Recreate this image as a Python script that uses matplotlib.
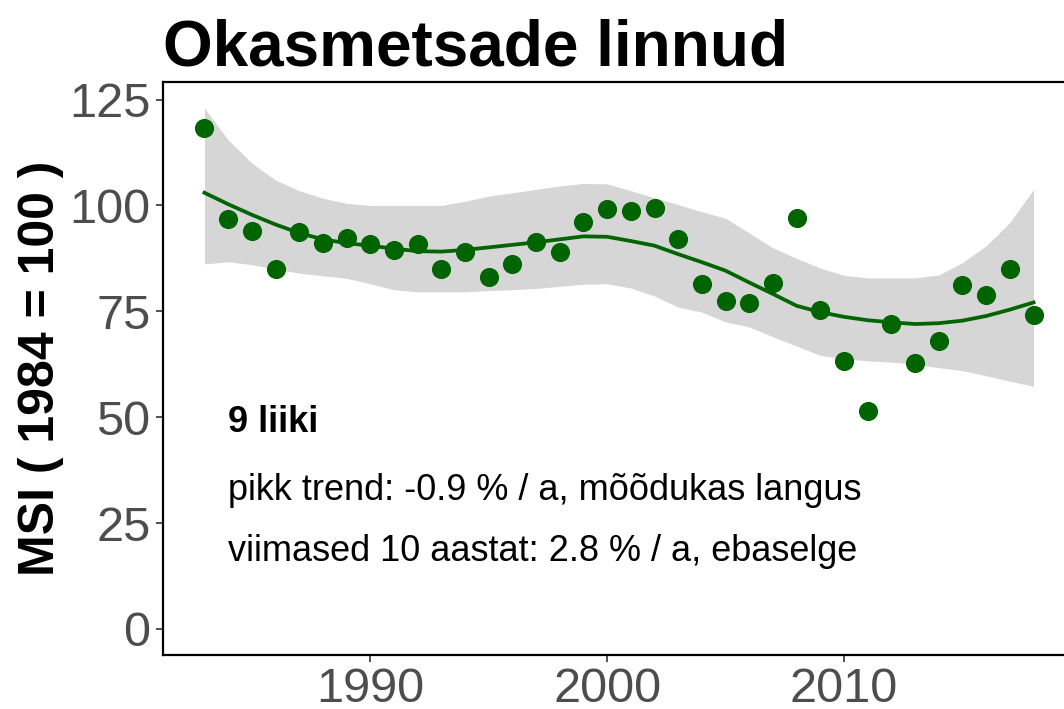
import matplotlib
matplotlib.use("Agg")
import matplotlib.pyplot as plt

plt.rcParams['font.family'] = ['Liberation Sans', 'DejaVu Sans']

# MSI indeksi aastased väärtused
aastad = list(range(1983, 2019))
msi = [118.2, 96.9, 94.0, 85.0, 93.8, 91.1, 92.4, 91.0, 89.5, 90.9,
       85.0, 89.1, 83.1, 86.2, 91.3, 89.1, 96.1, 99.1, 98.6, 99.3,
       92.0, 81.5, 77.5, 76.9, 81.8, 97.1, 75.2, 63.2, 51.5, 72.0,
       62.9, 68.1, 81.1, 78.9, 85.1, 74.2]

# silutud trend ja selle usalduspiirid
trend = [103.0, 100.3, 97.8, 95.5, 93.5, 92.0, 91.1, 90.5, 89.8, 89.2,
         89.1, 89.5, 90.1, 90.7, 91.3, 92.0, 92.7, 92.6, 91.6, 90.5,
         88.5, 86.6, 84.6, 81.8, 79.1, 76.3, 74.8, 73.7, 72.9, 72.4,
         72.0, 72.2, 72.8, 73.9, 75.4, 77.1]
ylemine = [123.0, 115.5, 110.0, 106.0, 103.5, 101.7, 100.5, 100.0, 100.0, 100.0,
           100.0, 101.0, 102.2, 103.0, 103.8, 104.6, 105.2, 105.1, 103.5, 101.8,
           100.2, 98.5, 97.0, 93.5, 90.0, 87.5, 85.2, 83.5, 82.9, 82.9,
           82.9, 83.6, 86.5, 90.5, 96.0, 103.8]
alumine = [86.2, 86.7, 86.0, 85.0, 84.0, 83.4, 82.8, 81.5, 80.1, 79.6,
           79.6, 79.6, 79.9, 80.1, 80.4, 80.9, 81.4, 81.5, 80.5, 78.6,
           76.0, 74.8, 72.5, 71.3, 69.0, 66.8, 64.6, 63.8, 63.3, 63.0,
           62.5, 61.7, 61.0, 59.8, 58.5, 57.3]

pealkiri = "Okasmetsade linnud"
liike = "9 liiki"
pikk_trend = "pikk trend: -0.9 % / a, mõõdukas langus"
lyhike_trend = "viimased 10 aastat: 2.8 % / a, ebaselge"

roheline = "#006400"

fig = plt.figure(figsize=(10.64, 7.09), dpi=100)
ax = fig.add_axes([163 / 1064, 1 - 655 / 709, 912 / 1064, 573 / 709])

ax.fill_between(aastad, alumine, ylemine, color="#D6D6D6", linewidth=0, zorder=1)
ax.plot(aastad, trend, color=roheline, linewidth=2.7, zorder=2)
ax.scatter(aastad, msi, s=190, color=roheline, linewidths=0, zorder=3)

ax.set_xlim(1981.25, 2019.75)
ax.set_ylim(-6.15, 129.15)
ax.set_xticks([1990, 2000, 2010])
ax.set_yticks([0, 25, 50, 75, 100, 125])
ax.tick_params(labelsize=35, labelcolor="#4D4D4D", color="#333333",
               length=5, width=1.2, pad=4)
for s in ax.spines.values():
    s.set_linewidth(1.6)
    s.set_color("black")

ax.set_ylabel("MSI ( 1984 = 100 )", fontsize=36, fontweight="bold", labelpad=4)

# liikide arv ja trendide hinnangud
ax.text(1984, 48.8, liike, fontsize=26, fontweight="bold", va="center", ha="left")
ax.text(1984, 32.8, pikk_trend, fontsize=26, va="center", ha="left")
ax.text(1984, 18.4, lyhike_trend, fontsize=26, va="center", ha="left")

fig.text(163 / 1064, 1 - 66 / 709, pealkiri, fontsize=46, fontweight="bold",
         ha="left", va="baseline")

fig.savefig("out.png", dpi=100)
